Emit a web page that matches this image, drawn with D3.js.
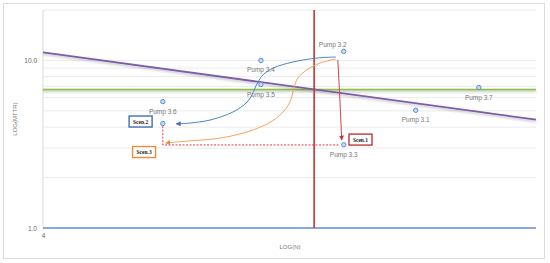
<!DOCTYPE html>
<html><head><meta charset="utf-8">
<script src="https://cdn.jsdelivr.net/npm/d3@7"></script>
<style>body{margin:0;background:#fff}svg{display:block}</style>
</head><body>
<svg id="c" width="550" height="263"></svg>
<script>
// ---- data ----
const yTickValues = [1, 10];
const yTickLabels = ["1.0", "10.0"];
const yGridValues = [2, 3, 4, 5, 6, 7, 8, 9, 10, 20];
const xTickValues = [4];
const xTickLabels = ["4"];
const pumpNames = ["Pump 3.1", "Pump 3.2", "Pump 3.3", "Pump 3.4", "Pump 3.5", "Pump 3.6", "", "Pump 3.7"];
const pumpX = [11.56, 10.10, 10.10, 8.42, 8.42, 6.43, 6.43, 12.84];
const pumpY = [5.04, 11.32, 3.14, 10.0, 7.18, 5.68, 4.20, 6.89];
const labelPos = ["below", "aboveLeft", "below", "below", "below", "below", "none", "below"];
const purpleLineX = [4, 14];
const purpleLineY = [11.17, 4.43];
const greenLineX = [4, 14];
const greenLineY = [6.7, 6.7];
const baseLineX = [4, 14];
const baseLineY = [1, 1];
const redVertX = [9.5, 9.5];
const redVertY = [1, 20];
const scen2X = [9.94, 9.56, 9.07, 8.67, 8.46, 8.36, 8.30, 8.24, 8.12, 7.85, 7.39, 6.98, 6.70];
const scen2Y = [10.48, 10.34, 9.79, 9.01, 8.19, 7.44, 6.85, 6.22, 5.57, 4.92, 4.41, 4.23, 4.18];
const scen3X = [9.94, 9.62, 9.35, 9.17, 9.09, 9.05, 8.99, 8.87, 8.65, 8.20, 7.59, 6.98, 6.49];
const scen3Y = [10.20, 9.65, 8.77, 7.86, 6.85, 6.14, 5.50, 4.92, 4.35, 3.79, 3.44, 3.31, 3.22];
const scen1X = [9.98, 10.02, 10.06];
const scen1Y = [10.06, 6.05, 3.35];
const dashX = [6.43, 6.43, 10.02];
const dashY = [4.05, 3.13, 3.13];
const scenNames = ["Scen.1", "Scen.2", "Scen.3"];
const scenX = [10.44, 5.98, 6.05];
const scenY = [3.37, 4.32, 2.84];
const scenColors = ["#c0393b", "#3f6fb5", "#f08a3c"];

// ---- scales ----
const svg = d3.select("#c");
const x = d3.scaleLinear().domain([4, 14]).range([43, 536]);
const y = d3.scaleLog().domain([1, 20]).range([228, 10]);

const defs = svg.append("defs");
const f = defs.append("filter").attr("id", "sh").attr("filterUnits", "userSpaceOnUse")
  .attr("x", 0).attr("y", 0).attr("width", 550).attr("height", 263);
f.append("feDropShadow").attr("dx", 0).attr("dy", 1.5).attr("stdDeviation", 0.8).attr("flood-color", "#000").attr("flood-opacity", 0.25);
scenColors.forEach((c, i) => {
  defs.append("marker").attr("id", "ar" + i).attr("viewBox", "0 0 10 10").attr("refX", 9).attr("refY", 5)
    .attr("markerWidth", 5).attr("markerHeight", 5).attr("orient", "auto")
    .append("path").attr("d", "M0,0L10,5L0,10z").attr("fill", c);
});

// frame
svg.append("rect").attr("x", 3.5).attr("y", 3.5).attr("width", 541).attr("height", 255)
  .attr("fill", "#fff").attr("stroke", "#dcdcdc");

// grid
svg.append("g").selectAll("line").data(yGridValues).join("line")
  .attr("x1", x(4)).attr("x2", x(14)).attr("y1", d => y(d)).attr("y2", d => y(d))
  .attr("stroke", "#ebebeb").attr("stroke-width", 1);

// y axis
svg.append("line").attr("x1", x(4)).attr("x2", x(4)).attr("y1", y(20)).attr("y2", y(1)).attr("stroke", "#d9d9d9");
const yAx = d3.axisLeft(y).tickValues(yTickValues).tickFormat((d, i) => yTickLabels[i]).tickSize(0).tickPadding(6);
const gy = svg.append("g").attr("transform", `translate(${x(4)},0)`).call(yAx);
gy.select(".domain").remove();
gy.selectAll("text").attr("font-family", "Liberation Sans, Arial, sans-serif").attr("font-size", 6.5).attr("fill", "#666");

const xAx = d3.axisBottom(x).tickValues(xTickValues).tickFormat((d, i) => xTickLabels[i]).tickSize(0).tickPadding(5);
const gx = svg.append("g").attr("transform", `translate(0,${y(1)})`).call(xAx);
gx.select(".domain").remove();
gx.selectAll("text").attr("font-family", "Liberation Sans, Arial, sans-serif").attr("font-size", 6.5).attr("fill", "#666");

// axis titles
svg.append("text").attr("x", 290).attr("y", 249).attr("text-anchor", "middle")
  .attr("font-family", "Liberation Sans, Arial, sans-serif").attr("font-size", 6).attr("fill", "#777").text("LOG(N)");
svg.append("text").attr("transform", `translate(17,${(y(20) + y(1)) / 2}) rotate(-90)`).attr("text-anchor", "middle")
  .attr("font-family", "Liberation Sans, Arial, sans-serif").attr("font-size", 6).attr("fill", "#777").text("LOG(MTTR)");

const line = d3.line().x(d => x(d[0])).y(d => y(d[1]));
const curve = d3.line().x(d => x(d[0])).y(d => y(d[1])).curve(d3.curveCatmullRom);
const zip = (a, b) => a.map((v, i) => [v, b[i]]);

// series lines
svg.append("path").attr("d", line(zip(baseLineX, baseLineY))).attr("stroke", "#5b8fd0").attr("stroke-width", 1.6).attr("fill", "none");
svg.append("path").attr("d", line(zip(greenLineX, greenLineY))).attr("stroke", "#8dc04a").attr("stroke-width", 1.8).attr("fill", "none").attr("filter", "url(#sh)");
svg.append("path").attr("d", line(zip(purpleLineX, purpleLineY))).attr("stroke", "#7d5ca8").attr("stroke-width", 1.8).attr("fill", "none").attr("filter", "url(#sh)");
svg.append("path").attr("d", line(zip(redVertX, redVertY))).attr("stroke", "#bf3535").attr("stroke-width", 1.6).attr("fill", "none");

// annotation curves
svg.append("path").attr("d", curve(zip(scen2X, scen2Y))).attr("stroke", "#4a86c8").attr("stroke-width", 1).attr("fill", "none").attr("marker-end", "url(#ar1)");
svg.append("path").attr("d", curve(zip(scen3X, scen3Y))).attr("stroke", "#f7a25a").attr("stroke-width", 1).attr("fill", "none").attr("marker-end", "url(#ar2)");
svg.append("path").attr("d", line(zip(scen1X, scen1Y))).attr("stroke", "#c84a4a").attr("stroke-width", 1).attr("fill", "none").attr("marker-end", "url(#ar0)");
svg.append("path").attr("d", line(zip(dashX, dashY))).attr("stroke", "#e8363a").attr("stroke-width", 1).attr("stroke-dasharray", "2,1.5").attr("fill", "none");

// points
const pts = pumpX.map((v, i) => ({ x: v, y: pumpY[i], n: pumpNames[i], p: labelPos[i] }));
svg.append("g").selectAll("circle").data(pts).join("circle")
  .attr("cx", d => x(d.x)).attr("cy", d => y(d.y)).attr("r", 2.2)
  .attr("fill", "#c9d9f0").attr("stroke", "#5b8fd0").attr("stroke-width", 1);
svg.append("g").selectAll("text").data(pts.filter(d => d.p !== "none")).join("text")
  .attr("x", d => x(d.x) + (d.p === "aboveLeft" ? -11 : 0))
  .attr("y", d => y(d.y) + (d.p === "aboveLeft" ? -4 : 12))
  .attr("text-anchor", "middle").attr("font-family", "Liberation Sans, Arial, sans-serif")
  .attr("font-size", 6.5).attr("fill", "#777").text(d => d.n);

// scenario boxes
const sc = scenNames.map((n, i) => ({ n, x: scenX[i], y: scenY[i], c: scenColors[i] }));
const sg = svg.append("g").selectAll("g").data(sc).join("g").attr("transform", d => `translate(${x(d.x)},${y(d.y)})`);
sg.append("rect").attr("x", -11.5).attr("y", -5.5).attr("width", 23).attr("height", 11)
  .attr("fill", "#fff").attr("stroke", d => d.c).attr("stroke-width", 1.4);
sg.append("text").attr("text-anchor", "middle").attr("dy", 2).attr("font-family", "Liberation Serif, Times New Roman, serif")
  .attr("font-weight", "bold").attr("font-size", 5.5).attr("fill", "#222").text(d => d.n);
</script>
</body></html>
